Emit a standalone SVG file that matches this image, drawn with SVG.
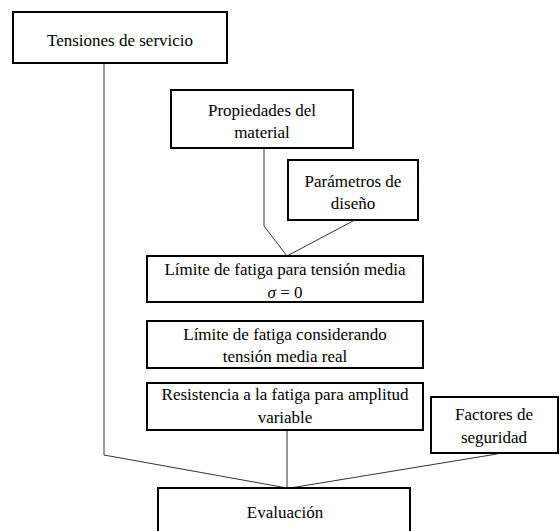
<svg xmlns="http://www.w3.org/2000/svg" width="560" height="531" viewBox="0 0 560 531">
<style>
.box{fill:#fff;stroke:#000;stroke-width:2}
.t{font-family:"Liberation Serif","Times New Roman",Times,Tinos,"Noto Serif","DejaVu Serif",FreeSerif,serif;font-size:17px;fill:#000;text-anchor:middle}
.c{fill:none;stroke:#333;stroke-width:1}
</style>
<rect width="560" height="531" fill="#fff"/>
<g id="connectors">
<polyline class="c" points="104,63 104,455 287,488"/>
<polyline class="c" points="264,148 264,226 287,256 353,221"/>
<line class="c" x1="287" y1="430" x2="287" y2="488"/>
<line class="c" x1="497" y1="454" x2="290" y2="488"/>
</g>
<g id="tensiones">
<rect class="box" x="13" y="12" width="214" height="51"/>
<text class="t" x="120" y="46" font-family="Liberation Serif, serif">Tensiones de servicio</text>
</g>
<g id="propiedades">
<rect class="box" x="171" y="90" width="182" height="58"/>
<text class="t" x="262" y="116">Propiedades del</text>
<text class="t" x="262" y="138">material</text>
</g>
<g id="parametros">
<rect class="box" x="288" y="160" width="130" height="60"/>
<text class="t" x="353" y="187">Parámetros de</text>
<text class="t" x="353" y="209">diseño</text>
</g>
<g id="limite0">
<rect class="box" x="147" y="256" width="276" height="46"/>
<text class="t" x="285" y="275">Límite de fatiga para tensión media</text>
<text class="t" x="285" y="298"><tspan font-style="italic">σ</tspan> = 0</text>
</g>
<g id="limitereal">
<rect class="box" x="147" y="321" width="276" height="47"/>
<text class="t" x="285" y="340">Límite de fatiga considerando</text>
<text class="t" x="285" y="362">tensión media real</text>
</g>
<g id="resistencia">
<rect class="box" x="147" y="383" width="276" height="47"/>
<text class="t" x="285" y="400">Resistencia a la fatiga para amplitud</text>
<text class="t" x="285" y="423">variable</text>
</g>
<g id="factores">
<rect class="box" x="431" y="397" width="127" height="56"/>
<text class="t" x="494" y="420">Factores de</text>
<text class="t" x="494" y="443">seguridad</text>
</g>
<g id="evaluacion">
<rect class="box" x="158" y="488" width="252" height="50"/>
<text class="t" x="285" y="518">Evaluación</text>
</g>
</svg>
